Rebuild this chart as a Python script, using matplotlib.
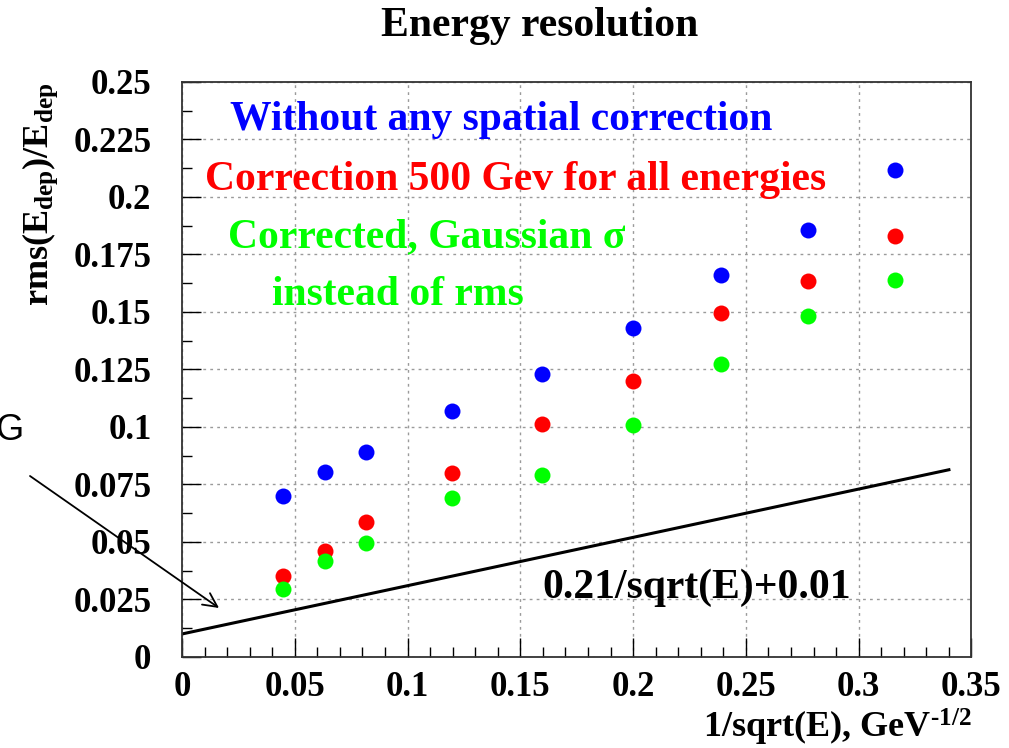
import matplotlib
matplotlib.use('Agg')
import matplotlib.pyplot as plt
from matplotlib.ticker import MultipleLocator, FixedFormatter, FixedLocator

# 1/sqrt(E) for the beam energies
inv_sqrt_e = [0.0447, 0.0632, 0.0816, 0.1195, 0.1596, 0.2000, 0.2390, 0.2774, 0.3162]
no_corr = [0.0700, 0.0804, 0.0891, 0.1070, 0.1230, 0.1430, 0.1660, 0.1857, 0.2117]
corr_500 = [0.0352, 0.0460, 0.0587, 0.0800, 0.1013, 0.1200, 0.1496, 0.1635, 0.1830]
corr_gauss = [0.0296, 0.0417, 0.0496, 0.0691, 0.0791, 0.1009, 0.1274, 0.1483, 0.1640]

fit_x = [0.0, 0.34]
fit_y = [0.0100, 0.0814]

xticks = [0, 0.05, 0.1, 0.15, 0.2, 0.25, 0.3, 0.35]
xticklabels = ['0', '0.05', '0.1', '0.15', '0.2', '0.25', '0.3', '0.35']
yticks = [0, 0.025, 0.05, 0.075, 0.1, 0.125, 0.15, 0.175, 0.2, 0.225, 0.25]
yticklabels = ['0', '0.025', '0.05', '0.075', '0.1', '0.125', '0.15', '0.175', '0.2', '0.225', '0.25']

serif = 'Liberation Serif'
plt.rcParams['font.family'] = serif
plt.rcParams['font.weight'] = 'bold'
plt.rcParams['mathtext.fontset'] = 'custom'
plt.rcParams['mathtext.rm'] = 'Liberation Serif:bold'
plt.rcParams['mathtext.bf'] = 'Liberation Serif:bold'

fig = plt.figure(figsize=(10.09, 7.48), dpi=100)
ax = fig.add_axes([0.1804, 0.1217, 0.7824, 0.7687])

ax.plot(inv_sqrt_e, no_corr, 'o', color='#0000ff', markersize=11.5, markeredgewidth=0)
ax.plot(inv_sqrt_e, corr_500, 'o', color='#ff0000', markersize=11.5, markeredgewidth=0)
ax.plot(inv_sqrt_e, corr_gauss, 'o', color='#00ff00', markersize=11.5, markeredgewidth=0)
ax.plot(fit_x, fit_y, color='black', linewidth=2.2)

ax.set_xlim(0, 0.35)
ax.set_ylim(0, 0.25)
ax.xaxis.set_major_locator(FixedLocator(xticks))
ax.xaxis.set_major_formatter(FixedFormatter(xticklabels))
ax.xaxis.set_minor_locator(MultipleLocator(0.01))
ax.yaxis.set_major_locator(FixedLocator(yticks))
ax.yaxis.set_major_formatter(FixedFormatter(yticklabels))
ax.yaxis.set_minor_locator(MultipleLocator(0.0125))
ax.tick_params(which='both', direction='in', top=False, right=False, color='black')
ax.tick_params(which='major', length=14, width=1.0)
ax.tick_params(which='minor', length=7.5, width=1.0)
ax.tick_params(axis='x', which='major', labelsize=25, pad=10)
ax.tick_params(axis='y', which='major', labelsize=25, pad=22)
for lab in ax.get_xticklabels() + ax.get_yticklabels():
    lab.set_fontweight('bold')
ax.grid(True, which='major', color='#9a9a9a', linestyle=(0, (2, 3)), linewidth=1.0)
for sp in ax.spines.values():
    sp.set_linewidth(1.3)
    sp.set_color('#333333')

fig.text(0.535, 0.965, 'Energy resolution', ha='center', va='center',
         fontsize=30, fontweight='bold')

ax.set_xlabel('1/sqrt(E), GeV$\\mathregular{^{\\text{-}1/2}}$', fontsize=26,
              fontweight='bold', loc='right', labelpad=2)
fig.text(0.040, 0.890, 'rms(E$\\mathregular{_{dep}}$)/E$\\mathregular{_{dep}}$',
         rotation=90, ha='center', va='top', fontsize=26, fontweight='bold')

txt = dict(fontsize=30, fontweight='bold', va='center', ha='left')
fig.text(230 / 1009, 1 - 120 / 748, 'Without any spatial correction', color='#0000ff', **txt)
fig.text(205 / 1009, 1 - 180 / 748, 'Correction 500 Gev for all energies', color='#ff0000', **txt)
fig.text(228 / 1009, 1 - 237 / 748, 'Corrected, Gaussian \u03c3', color='#00ff00', **txt)
fig.text(272 / 1009, 1 - 295 / 748, 'instead of rms', color='#00ff00', **txt)
fig.text(542 / 1009, 1 - 588 / 748, '0.21/sqrt(E)+0.01', color='black', **txt)

fig.text(23 / 1009, 1 - 431 / 748, 'G', family='Liberation Sans', fontweight='normal',
         fontsize=26, ha='right', va='center')
ax.annotate('', xy=(0.0164, 0.0213), xycoords='data',
            xytext=(30 / 1009, 1 - 476 / 748), textcoords='figure fraction',
            arrowprops=dict(arrowstyle='->', color='black', lw=1.3,
                            mutation_scale=25, shrinkA=0, shrinkB=0),
            annotation_clip=False)

fig.savefig('out.png', dpi=100)
